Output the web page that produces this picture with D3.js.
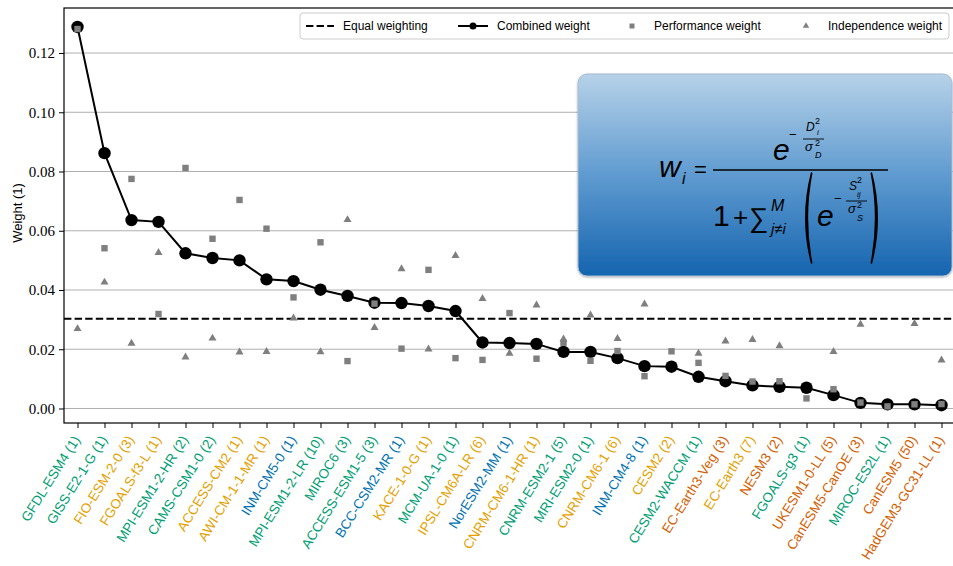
<!DOCTYPE html>
<html>
<head>
<meta charset="utf-8">
<script src="https://cdn.jsdelivr.net/npm/d3@7"></script>
<style>
  html, body { margin: 0; padding: 0; background: #fff; }
  svg { display: block; }
</style>
</head>
<body>
<svg id="chart" width="953" height="566"></svg>
<script>
// Model names, ensemble member counts and label colour group
const models = ["GFDL-ESM4","GISS-E2-1-G","FIO-ESM-2-0","FGOALS-f3-L","MPI-ESM1-2-HR","CAMS-CSM1-0",
  "ACCESS-CM2","AWI-CM-1-1-MR","INM-CM5-0","MPI-ESM1-2-LR","MIROC6","ACCESS-ESM1-5","BCC-CSM2-MR",
  "KACE-1-0-G","MCM-UA-1-0","IPSL-CM6A-LR","NorESM2-MM","CNRM-CM6-1-HR","CNRM-ESM2-1","MRI-ESM2-0",
  "CNRM-CM6-1","INM-CM4-8","CESM2","CESM2-WACCM","EC-Earth3-Veg","EC-Earth3","NESM3","FGOALS-g3",
  "UKESM1-0-LL","CanESM5-CanOE","MIROC-ES2L","CanESM5","HadGEM3-GC31-LL"];
const members = [1,1,3,1,2,2,1,1,1,10,3,3,1,1,1,6,1,1,5,1,6,1,2,1,3,7,2,1,5,3,1,50,1];
const groups = ["g","g","o","o","g","g","o","o","b","g","g","g","b","o","g","o","b","o","g","g",
  "o","b","o","g","v","o","v","g","v","v","g","v","v"];

// Weights
const combined = [0.1288,0.0862,0.0636,0.0630,0.0524,0.0508,0.0500,0.0436,0.0430,0.0401,0.0380,
  0.0357,0.0356,0.0346,0.0329,0.0223,0.0221,0.0218,0.0191,0.0191,0.0170,0.0143,0.0141,0.0107,
  0.0092,0.0078,0.0073,0.0070,0.0045,0.0019,0.0014,0.0014,0.0011];
const performance = [0.1281,0.0541,0.0775,0.0319,0.0812,0.0573,0.0704,0.0607,0.0375,0.0561,0.0160,
  0.0354,0.0202,0.0468,0.0170,0.0164,0.0322,0.0168,0.0222,0.0161,0.0194,0.0109,0.0193,0.0154,
  0.0110,0.0091,0.0092,0.0034,0.0065,0.0020,0.0007,0.0014,0.0015];
const independence = [0.0269,0.0426,0.0220,0.0526,0.0173,0.0237,0.0190,0.0192,0.0305,0.0191,0.0637,
  0.0273,0.0471,0.0200,0.0516,0.0371,0.0186,0.0349,0.0234,0.0315,0.0236,0.0352,0.0480,0.0186,
  0.0227,0.0232,0.0211,0.0580,0.0192,0.0284,0.0520,0.0286,0.0163];
const equalWeight = 1 / models.length;
const yTicks = [0.00,0.02,0.04,0.06,0.08,0.10,0.12];

const palette = { g: "#009E73", o: "#E69F00", b: "#0072B2", v: "#D55E00" };
const grey = "#7f7f7f";

const svg = d3.select("#chart");
const pLeft = 64, pRight = 955, pTop = 8, pBottom = 423;

const x = d3.scalePoint().domain(d3.range(models.length)).range([pLeft, pRight]).padding(0.5);
const y = d3.scaleLinear().domain([-0.0049, 0.1352]).range([pBottom, pTop]);

// Grid
svg.append("g").selectAll("line").data(yTicks).join("line")
  .attr("x1", pLeft).attr("x2", pRight)
  .attr("y1", d => y(d)).attr("y2", d => y(d))
  .attr("stroke", "#b0b0b0").attr("stroke-width", 1);

// Equal weighting reference
svg.append("line")
  .attr("x1", pLeft).attr("x2", pRight)
  .attr("y1", y(equalWeight)).attr("y2", y(equalWeight))
  .attr("stroke", "#000").attr("stroke-width", 2).attr("stroke-dasharray", "7.4,3.2");

// Combined weight line and markers
svg.append("path").datum(combined)
  .attr("d", d3.line().x((d, i) => x(i)).y(d => y(d)))
  .attr("fill", "none").attr("stroke", "#000").attr("stroke-width", 2);
svg.append("g").selectAll("circle").data(combined).join("circle")
  .attr("cx", (d, i) => x(i)).attr("cy", d => y(d)).attr("r", 6.2).attr("fill", "#000");

// Performance weight squares
svg.append("g").selectAll("rect").data(performance).join("rect")
  .attr("x", (d, i) => x(i) - 3.2).attr("y", d => y(d) - 3.2)
  .attr("width", 6.4).attr("height", 6.4).attr("fill", grey);

// Independence weight triangles
const tri = d3.symbol().type(d3.symbolTriangle).size(28);
svg.append("g").selectAll("path").data(independence).join("path")
  .attr("d", tri)
  .attr("transform", (d, i) => `translate(${x(i)},${y(d)})`)
  .attr("fill", grey);

// Formula panel
const defs = svg.append("defs");
const grad = defs.append("linearGradient").attr("id", "panelGrad")
  .attr("x1", 0).attr("y1", 0).attr("x2", 0).attr("y2", 1);
grad.append("stop").attr("offset", "0%").attr("stop-color", "#b7d2e9");
grad.append("stop").attr("offset", "50%").attr("stop-color", "#5f9bd0");
grad.append("stop").attr("offset", "100%").attr("stop-color", "#1564af");
const shadow = defs.append("filter").attr("id", "panelShadow")
  .attr("x", "-5%").attr("y", "-5%").attr("width", "110%").attr("height", "115%");
shadow.append("feDropShadow").attr("dx", 0).attr("dy", 1).attr("stdDeviation", 1.2)
  .attr("flood-color", "#000").attr("flood-opacity", 0.3);

const panel = svg.append("g");
panel.append("rect")
  .attr("x", 578).attr("y", 74).attr("width", 374).attr("height", 202).attr("rx", 9)
  .attr("fill", "url(#panelGrad)").attr("stroke", "#a7bccf").attr("stroke-width", 1)
  .attr("filter", "url(#panelShadow)");

const f = panel.append("g")
  .attr("font-family", "'Liberation Sans', Arial, sans-serif").attr("fill", "#000");
function txt(s, px, py, size, italic) {
  return f.append("text").attr("x", px).attr("y", py).attr("font-size", size)
    .attr("font-style", italic ? "italic" : "normal").text(s);
}
function bar(x1, x2, yy, w) {
  f.append("line").attr("x1", x1).attr("x2", x2).attr("y1", yy).attr("y2", yy)
    .attr("stroke", "#000").attr("stroke-width", w);
}
// Tall bracket drawn as a filled crescent
function paren(px, y1, y2, w, flip) {
  const ym = (y1 + y2) / 2, s = flip ? -1 : 1;
  const p = d3.path();
  p.moveTo(px + s * w, y1);
  p.quadraticCurveTo(px - s * w * 1.0, ym, px + s * w, y2);
  p.lineTo(px + s * w * 1.25, y2 - 1);
  p.quadraticCurveTo(px - s * w * 0.2, ym, px + s * w * 1.25, y1 + 1);
  p.closePath();
  f.append("path").attr("d", p.toString()).attr("fill", "#000");
}
// w_i =
txt("w", 659, 177, 30, true);
txt("i", 682, 184, 16, true);
txt("=", 694, 177, 22, false);
bar(713, 888, 170, 1.4);
// numerator: e^{-D_i^2 / sigma_D^2}
txt("e", 773, 160, 30, true);
txt("\u2212", 789, 139, 13, false);
txt("D", 806, 131, 12, true);
txt("2", 815, 124, 9, false);
txt("i", 817, 135, 8, true);
bar(803, 824, 139, 0.9);
txt("\u03c3", 805, 151, 13, true);
txt("2", 815, 146, 9, false);
txt("D", 815, 158, 9, true);
// denominator: 1 + sum_{j != i}^M ( e^{-S_ij^2 / sigma_S^2} )
txt("1", 713, 226, 30, false);
txt("+", 733, 226, 26, false);
txt("\u2211", 749, 227, 27, false);
txt("M", 771, 211, 16, true);
txt("j\u2260i", 771, 234, 15, true);
paren(805, 172, 264, 6, false);
txt("e", 817, 226, 30, true);
txt("\u2212", 834, 203, 13, false);
txt("S", 849, 190, 12, true);
txt("2", 857, 183, 9, false);
txt("ij", 857, 197, 8, true);
bar(846, 867, 201, 0.9);
txt("\u03c3", 848, 213, 13, true);
txt("2", 857, 208, 9, false);
txt("S", 857, 221, 9, true);
paren(878, 172, 264, 6, true);

// Frame
svg.append("rect").attr("x", pLeft).attr("y", pTop)
  .attr("width", pRight - pLeft).attr("height", pBottom - pTop)
  .attr("fill", "none").attr("stroke", "#000").attr("stroke-width", 1.2);

// Y axis
const yAxis = svg.append("g").attr("transform", `translate(${pLeft},0)`)
  .call(d3.axisLeft(y).tickValues(yTicks).tickFormat(d3.format(".2f")).tickSize(5).tickPadding(4));
yAxis.select(".domain").remove();
yAxis.selectAll("text").attr("font-family", "'Liberation Serif', 'DejaVu Serif', serif")
  .attr("font-size", 15).attr("fill", "#000");

svg.append("text")
  .attr("transform", `translate(22,213) rotate(-90)`)
  .attr("text-anchor", "middle")
  .attr("font-family", "'Liberation Sans', Arial, sans-serif").attr("font-size", 13)
  .text("Weight (1)");

// X axis with rotated, colour-coded model labels
const xAxis = svg.append("g").attr("transform", `translate(0,${pBottom})`)
  .call(d3.axisBottom(x).tickSize(5).tickFormat(""));
xAxis.select(".domain").remove();
svg.append("g").selectAll("text").data(models).join("text")
  .attr("transform", (d, i) => `translate(${x(i) - 1},${pBottom + 14}) rotate(-58)`)
  .attr("text-anchor", "end").attr("dy", "0.35em")
  .attr("font-family", "'Liberation Sans', Arial, sans-serif").attr("font-size", 13.6)
  .attr("fill", (d, i) => palette[groups[i]])
  .text((d, i) => `${d} (${members[i]})`);

// Legend
const lg = svg.append("g").attr("font-family", "'Liberation Sans', Arial, sans-serif")
  .attr("font-size", 12);
lg.append("rect").attr("x", 300).attr("y", 13).attr("width", 649).attr("height", 26).attr("rx", 3)
  .attr("fill", "#fff").attr("fill-opacity", 0.85).attr("stroke", "#ccc");
lg.append("line").attr("x1", 306).attr("x2", 334).attr("y1", 26).attr("y2", 26)
  .attr("stroke", "#000").attr("stroke-width", 2).attr("stroke-dasharray", "7.4,3.2");
lg.append("text").attr("x", 343).attr("y", 30).text("Equal weighting");
lg.append("line").attr("x1", 458).attr("x2", 488).attr("y1", 26).attr("y2", 26)
  .attr("stroke", "#000").attr("stroke-width", 2);
lg.append("circle").attr("cx", 473).attr("cy", 26).attr("r", 3.5).attr("fill", "#000");
lg.append("text").attr("x", 497).attr("y", 30).text("Combined weight");
lg.append("rect").attr("x", 629.5).attr("y", 23.5).attr("width", 5).attr("height", 5).attr("fill", grey);
lg.append("text").attr("x", 654).attr("y", 30).text("Performance weight");
lg.append("path").attr("d", d3.symbol().type(d3.symbolTriangle).size(18))
  .attr("transform", "translate(806,26)").attr("fill", grey);
lg.append("text").attr("x", 828).attr("y", 30).text("Independence weight");
</script>
</body>
</html>
